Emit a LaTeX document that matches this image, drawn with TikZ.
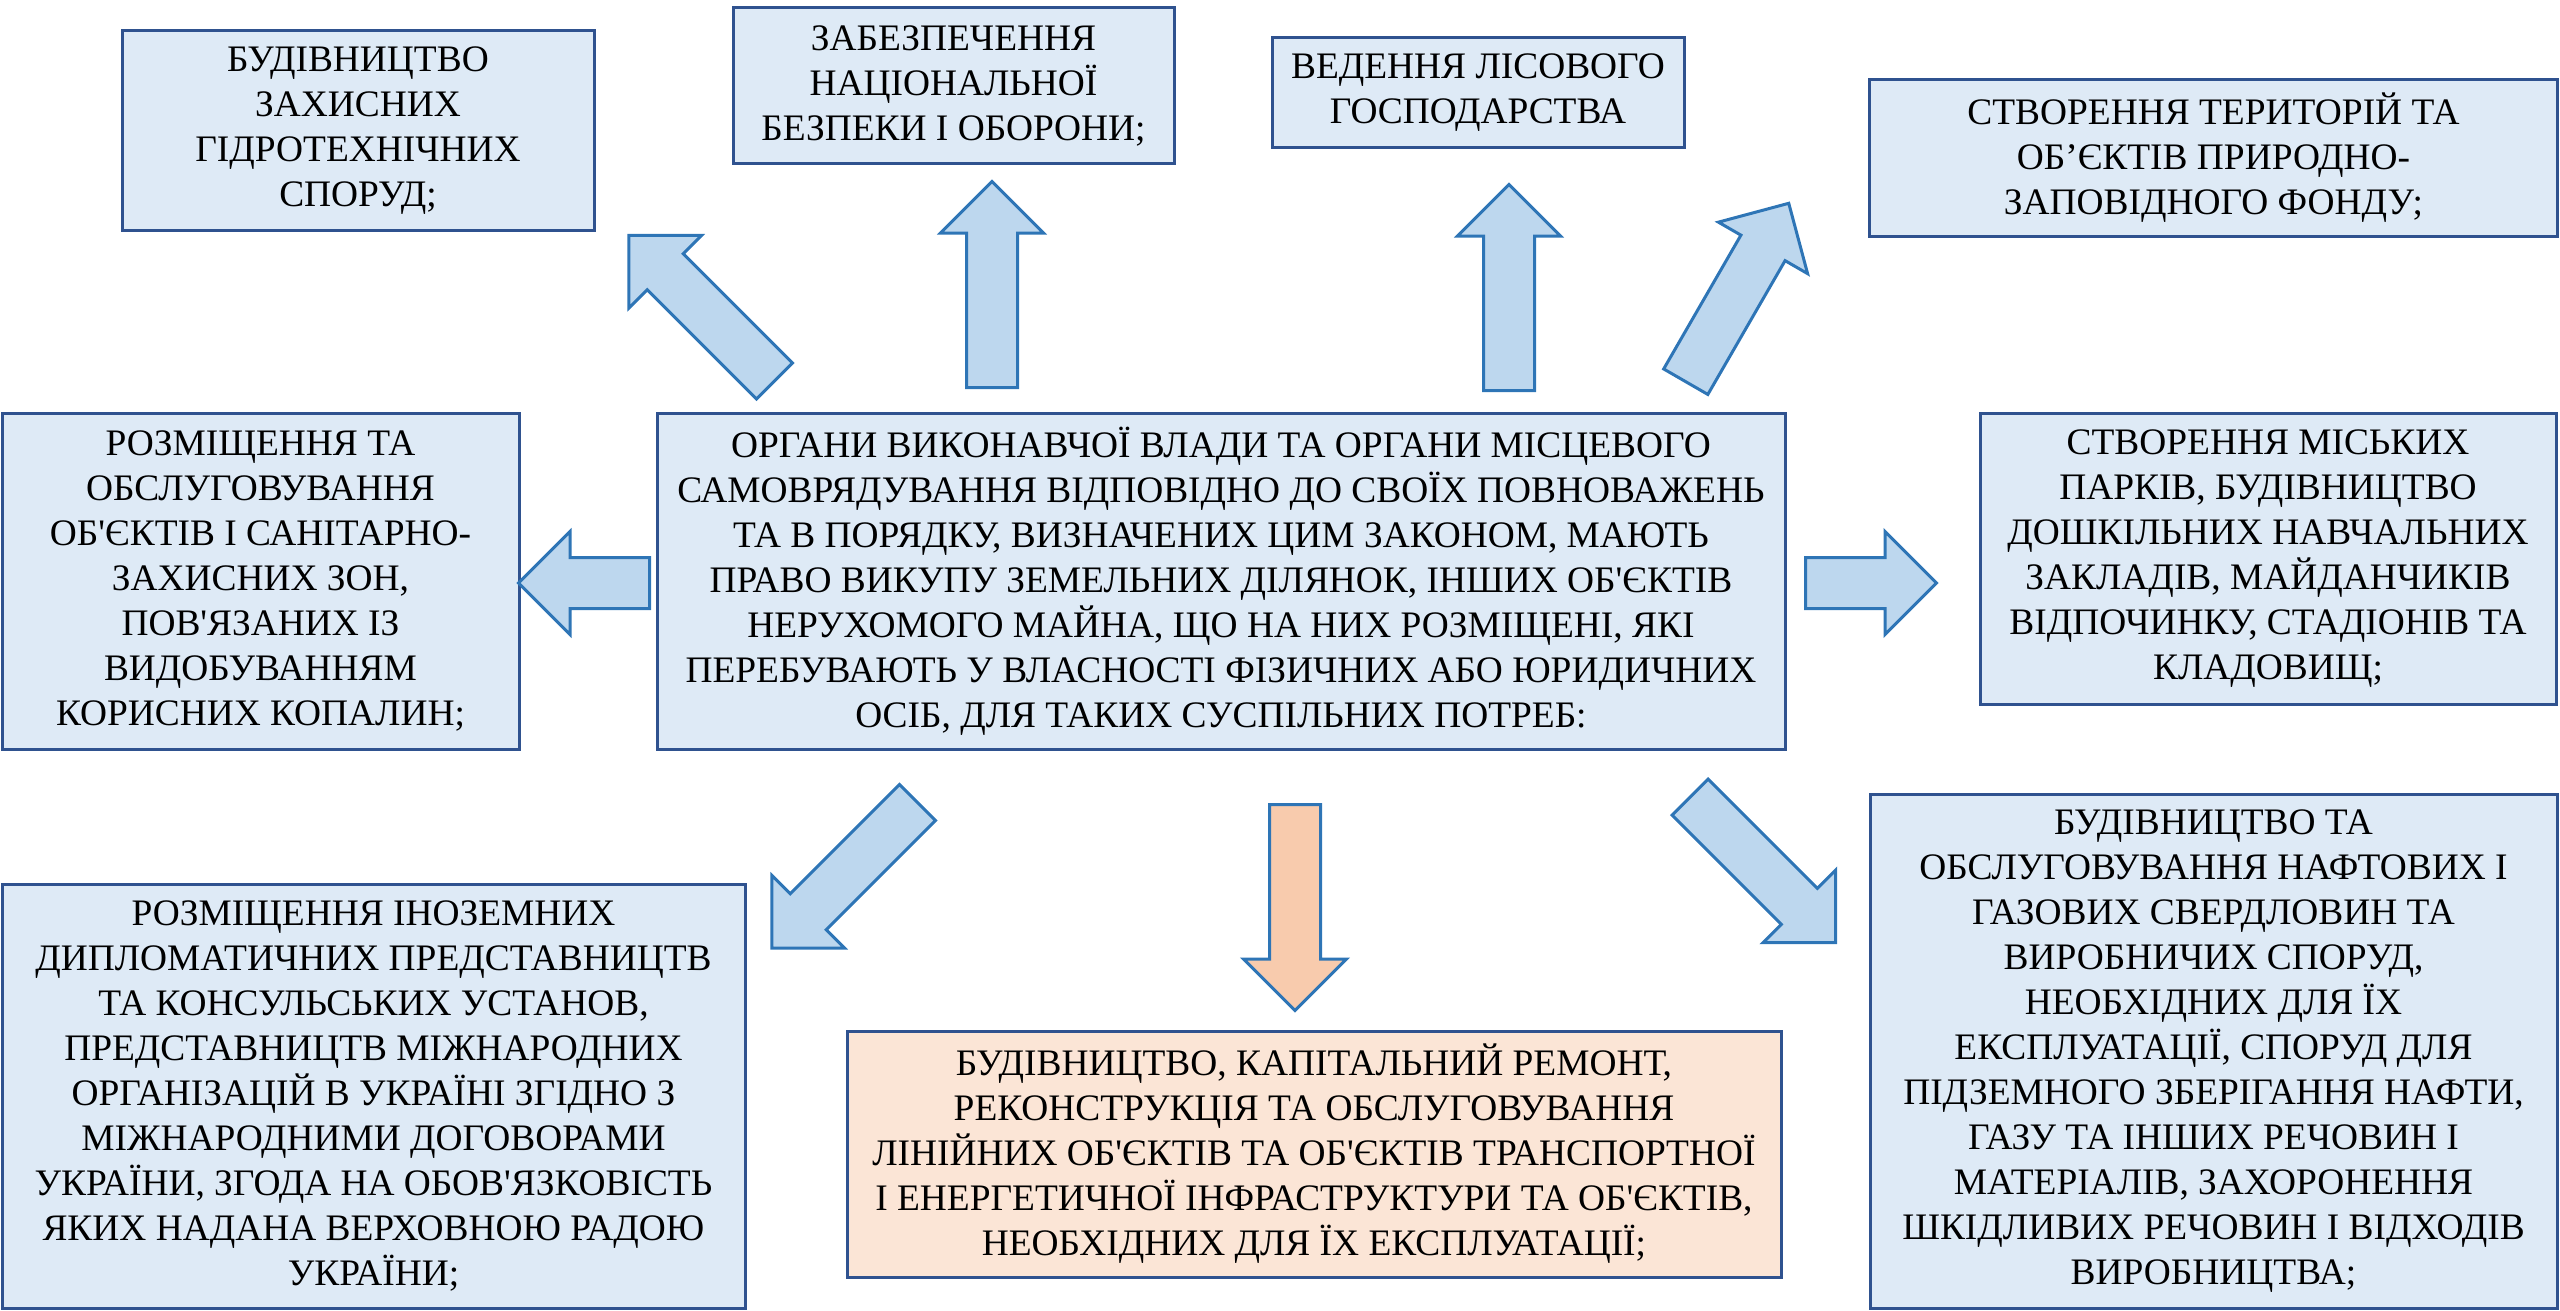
\documentclass[tikz,border=0pt]{standalone}
\usepackage{fontspec}
\usepackage{tikz}
\usetikzlibrary{shapes.arrows}
\newfontfamily\uafont{Liberation Serif}
\definecolor{boxfill}{RGB}{222,234,246}
\definecolor{boxline}{RGB}{47,82,143}
\definecolor{arrfill}{RGB}{189,215,238}
\definecolor{arrline}{RGB}{46,117,182}
\definecolor{orangefill}{RGB}{248,203,173}
\definecolor{orangebox}{RGB}{251,229,214}
\tikzset{box/.style={draw=boxline,fill=boxfill,line width=1.5pt,align=center,inner sep=0pt,font=\uafont\fontsize{18.7}{22.5}\selectfont}}
\tikzset{blockarrow/.style={single arrow,draw=arrline,fill=arrfill,line width=1.5pt,inner sep=12pt,single arrow head extend=13pt,single arrow tip angle=90,minimum height=103pt,anchor=tail}}
\begin{document}
\begin{tikzpicture}[x=0.5pt,y=-0.5pt]
            \useasboundingbox (0,0) rectangle (2560,1311);
            \node [box,minimum width=564pt,minimum height=168pt] (C) at (1221,581) {ОРГАНИ ВИКОНАВЧОЇ ВЛАДИ ТА ОРГАНИ МІСЦЕВОГО\\САМОВРЯДУВАННЯ ВІДПОВІДНО ДО СВОЇХ ПОВНОВАЖЕНЬ\\ТА В ПОРЯДКУ, ВИЗНАЧЕНИХ ЦИМ ЗАКОНОМ, МАЮТЬ\\ПРАВО ВИКУПУ ЗЕМЕЛЬНИХ ДІЛЯНОК, ІНШИХ ОБ'ЄКТІВ\\НЕРУХОМОГО МАЙНА, ЩО НА НИХ РОЗМІЩЕНІ, ЯКІ\\ПЕРЕБУВАЮТЬ У ВЛАСНОСТІ ФІЗИЧНИХ АБО ЮРИДИЧНИХ\\ОСІБ, ДЛЯ ТАКИХ СУСПІЛЬНИХ ПОТРЕБ:};
            \node [box,minimum width=236pt,minimum height=99.5pt] (hydro) at (358,130.5) {БУДІВНИЦТВО\\ЗАХИСНИХ\\ГІДРОТЕХНІЧНИХ\\СПОРУД;};
            \node [box,minimum width=220.5pt,minimum height=78pt] (defence) at (953.5,86) {ЗАБЕЗПЕЧЕННЯ\\НАЦІОНАЛЬНОЇ\\БЕЗПЕКИ І ОБОРОНИ;};
            \node [box,minimum width=206pt,minimum height=55pt] (forest) at (1478,93) {ВЕДЕННЯ ЛІСОВОГО\\ГОСПОДАРСТВА};
            \node [box,minimum width=344pt,minimum height=78pt] (reserve) at (2213.5,158) {СТВОРЕННЯ ТЕРИТОРІЙ ТА\\ОБ’ЄКТІВ ПРИРОДНО-\\ЗАПОВІДНОГО ФОНДУ;};
            \node [box,minimum width=258.5pt,minimum height=168pt] (mining) at (260.5,581) {РОЗМІЩЕННЯ ТА\\ОБСЛУГОВУВАННЯ\\ОБ'ЄКТІВ І САНІТАРНО-\\ЗАХИСНИХ ЗОН,\\ПОВ'ЯЗАНИХ ІЗ\\ВИДОБУВАННЯМ\\КОРИСНИХ КОПАЛИН;};
            \node [box,minimum width=288pt,minimum height=145.5pt] (parks) at (2268,558.5) {СТВОРЕННЯ МІСЬКИХ\\ПАРКІВ, БУДІВНИЦТВО\\ДОШКІЛЬНИХ НАВЧАЛЬНИХ\\ЗАКЛАДІВ, МАЙДАНЧИКІВ\\ВІДПОЧИНКУ, СТАДІОНІВ ТА\\КЛАДОВИЩ;};
            \node [box,minimum width=371.5pt,minimum height=212pt] (embassy) at (373.5,1096) {РОЗМІЩЕННЯ ІНОЗЕМНИХ\\ДИПЛОМАТИЧНИХ ПРЕДСТАВНИЦТВ\\ТА КОНСУЛЬСЬКИХ УСТАНОВ,\\ПРЕДСТАВНИЦТВ МІЖНАРОДНИХ\\ОРГАНІЗАЦІЙ В УКРАЇНІ ЗГІДНО З\\МІЖНАРОДНИМИ ДОГОВОРАМИ\\УКРАЇНИ, ЗГОДА НА ОБОВ'ЯЗКОВІСТЬ\\ЯКИХ НАДАНА ВЕРХОВНОЮ РАДОЮ\\УКРАЇНИ;};
            \node [box,fill=orangebox,minimum width=467pt,minimum height=123pt] (infra) at (1314,1154) {БУДІВНИЦТВО, КАПІТАЛЬНИЙ РЕМОНТ,\\РЕКОНСТРУКЦІЯ ТА ОБСЛУГОВУВАННЯ\\ЛІНІЙНИХ ОБ'ЄКТІВ ТА ОБ'ЄКТІВ ТРАНСПОРТНОЇ\\І ЕНЕРГЕТИЧНОЇ ІНФРАСТРУКТУРИ ТА ОБ'ЄКТІВ,\\НЕОБХІДНИХ ДЛЯ ЇХ ЕКСПЛУАТАЦІЇ;};
            \node [box,minimum width=343.5pt,minimum height=257pt] (oilgas) at (2213.5,1051) {БУДІВНИЦТВО ТА\\ОБСЛУГОВУВАННЯ НАФТОВИХ І\\ГАЗОВИХ СВЕРДЛОВИН ТА\\ВИРОБНИЧИХ СПОРУД,\\НЕОБХІДНИХ ДЛЯ ЇХ\\ЕКСПЛУАТАЦІЇ, СПОРУД ДЛЯ\\ПІДЗЕМНОГО ЗБЕРІГАННЯ НАФТИ,\\ГАЗУ ТА ІНШИХ РЕЧОВИН І\\МАТЕРІАЛІВ, ЗАХОРОНЕННЯ\\ШКІДЛИВИХ РЕЧОВИН І ВІДХОДІВ\\ВИРОБНИЦТВА;};
            \node [blockarrow,rotate=135] (toHydro) at (775.5,382) {};
            \node [blockarrow,rotate=90] (toDefence) at (992,389) {};
            \node [blockarrow,rotate=90] (toForest) at (1509,392) {};
            \node [blockarrow,rotate=60] (toReserve) at (1685,383) {};
            \node [blockarrow,rotate=180,minimum height=65.5pt] (toMining) at (651,583) {};
            \node [blockarrow,minimum height=65.5pt] (toParks) at (1804,583) {};
            \node [blockarrow,rotate=-135] (toEmbassy) at (918.5,801.5) {};
            \node [blockarrow,rotate=-90,fill=orangefill] (toInfra) at (1295,803) {};
            \node [blockarrow,rotate=-45] (toOilgas) at (1689,796) {};
         \end{tikzpicture}
\end{document}
